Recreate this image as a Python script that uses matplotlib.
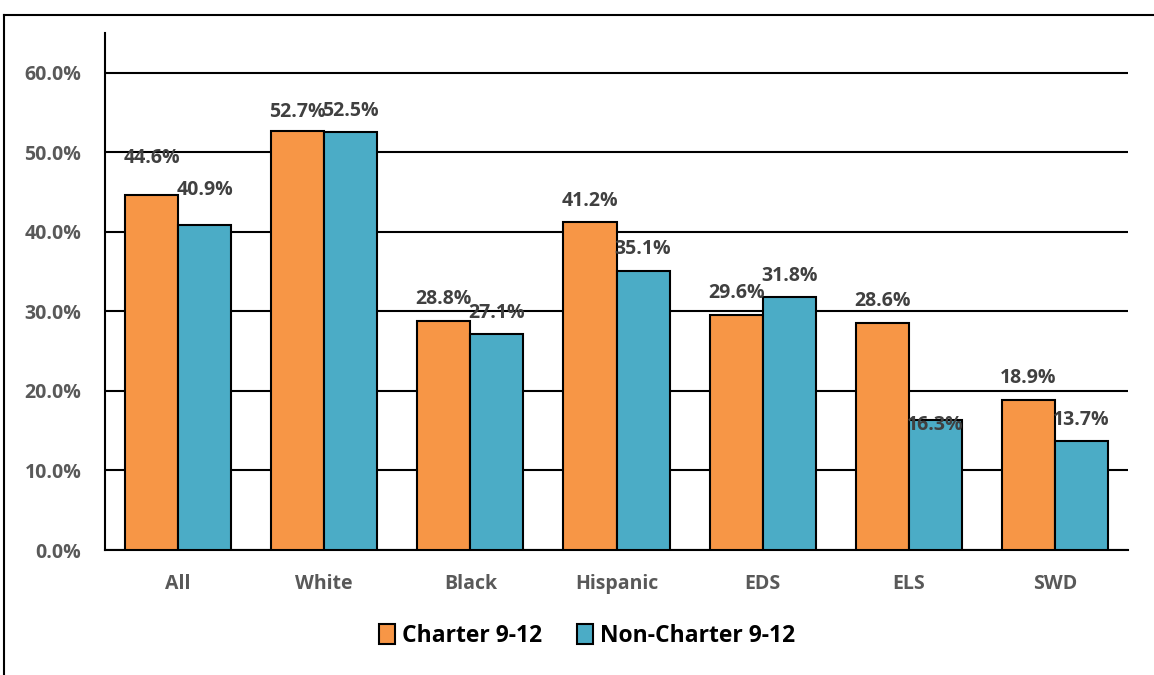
import matplotlib
matplotlib.use("Agg")
import matplotlib.pyplot as plt
from matplotlib.lines import Line2D
from matplotlib.patches import Patch

categories = ["All", "White", "Black", "Hispanic", "EDS", "ELS", "SWD"]
charter = [44.6, 52.7, 28.8, 41.2, 29.6, 28.6, 18.9]
non_charter = [40.9, 52.5, 27.1, 35.1, 31.8, 16.3, 13.7]
series_names = ["Charter 9-12", "Non-Charter 9-12"]
# extra vertical offset of each data label above its bar (percentage points)
charter_label_off = [2.6, 0.3, 0.6, 0.6, 0.6, 0.6, 0.6]
non_label_off = [2.3, 0.6, 0.6, 0.6, 0.6, -2.7, 0.6]

plt.rcParams['font.family'] = ['Open Sans', 'DejaVu Sans']

fig = plt.figure(figsize=(11.54, 6.75), dpi=100)
ax = fig.add_axes([105/1154, 1-550/675, (1128-105)/1154, (550-33)/675])

w = 0.363
x = list(range(len(categories)))
c_orange = "#F79646"
c_blue = "#4BACC6"
ax.bar([i - w/2 for i in x], charter, width=w, color=c_orange, edgecolor="black", linewidth=1.5, zorder=3)
ax.bar([i + w/2 for i in x], non_charter, width=w, color=c_blue, edgecolor="black", linewidth=1.5, zorder=3)

fs = 14
for i in x:
    ax.text(i - w/2, charter[i] + 2.1 + charter_label_off[i], f"{charter[i]:.1f}%",
            ha="center", va="center", fontsize=fs, fontweight="bold", color="#404040", zorder=5)
    ax.text(i + w/2, non_charter[i] + 2.1 + non_label_off[i], f"{non_charter[i]:.1f}%",
            ha="center", va="center", fontsize=fs, fontweight="bold", color="#404040", zorder=5)

ax.set_xlim(-0.5, len(categories) - 0.5)
ax.set_ylim(0, 65)
ax.set_yticks([0, 10, 20, 30, 40, 50, 60])
ax.set_yticklabels([f"{v:.1f}%" for v in [0, 10, 20, 30, 40, 50, 60]])
ax.set_xticks(x)
ax.set_xticklabels(categories)
ax.tick_params(axis="both", length=0, labelsize=fs, labelcolor="#595959")
ax.tick_params(axis="y", pad=17)
ax.tick_params(axis="x", pad=17)
for lab in ax.get_xticklabels() + ax.get_yticklabels():
    lab.set_fontweight("bold")

ax.yaxis.grid(True, color="black", linewidth=1.5, zorder=0)
ax.set_axisbelow(True)
for s in ["top", "right"]:
    ax.spines[s].set_visible(False)
ax.spines["left"].set_linewidth(1.5)
ax.spines["bottom"].set_linewidth(1.5)

handles = [Patch(facecolor=c_orange, edgecolor="black", linewidth=1.5),
           Patch(facecolor=c_blue, edgecolor="black", linewidth=1.5)]
leg = fig.legend(handles, series_names, loc="center", bbox_to_anchor=(587/1154, 1-636/675),
                 ncol=2, frameon=False, handlelength=0.7, handleheight=0.95, handletextpad=0.3,
                 columnspacing=1.5, prop={"family": ["Open Sans"], "weight": "bold", "size": 16.5})

# outer frame
fig.add_artist(Line2D([4/1154, 4/1154], [0, 1-15/675], color="black", linewidth=1.5, transform=fig.transFigure))
fig.add_artist(Line2D([4/1154, 1], [1-15/675, 1-15/675], color="black", linewidth=1.5, transform=fig.transFigure))

fig.savefig("out.png", dpi=100)
